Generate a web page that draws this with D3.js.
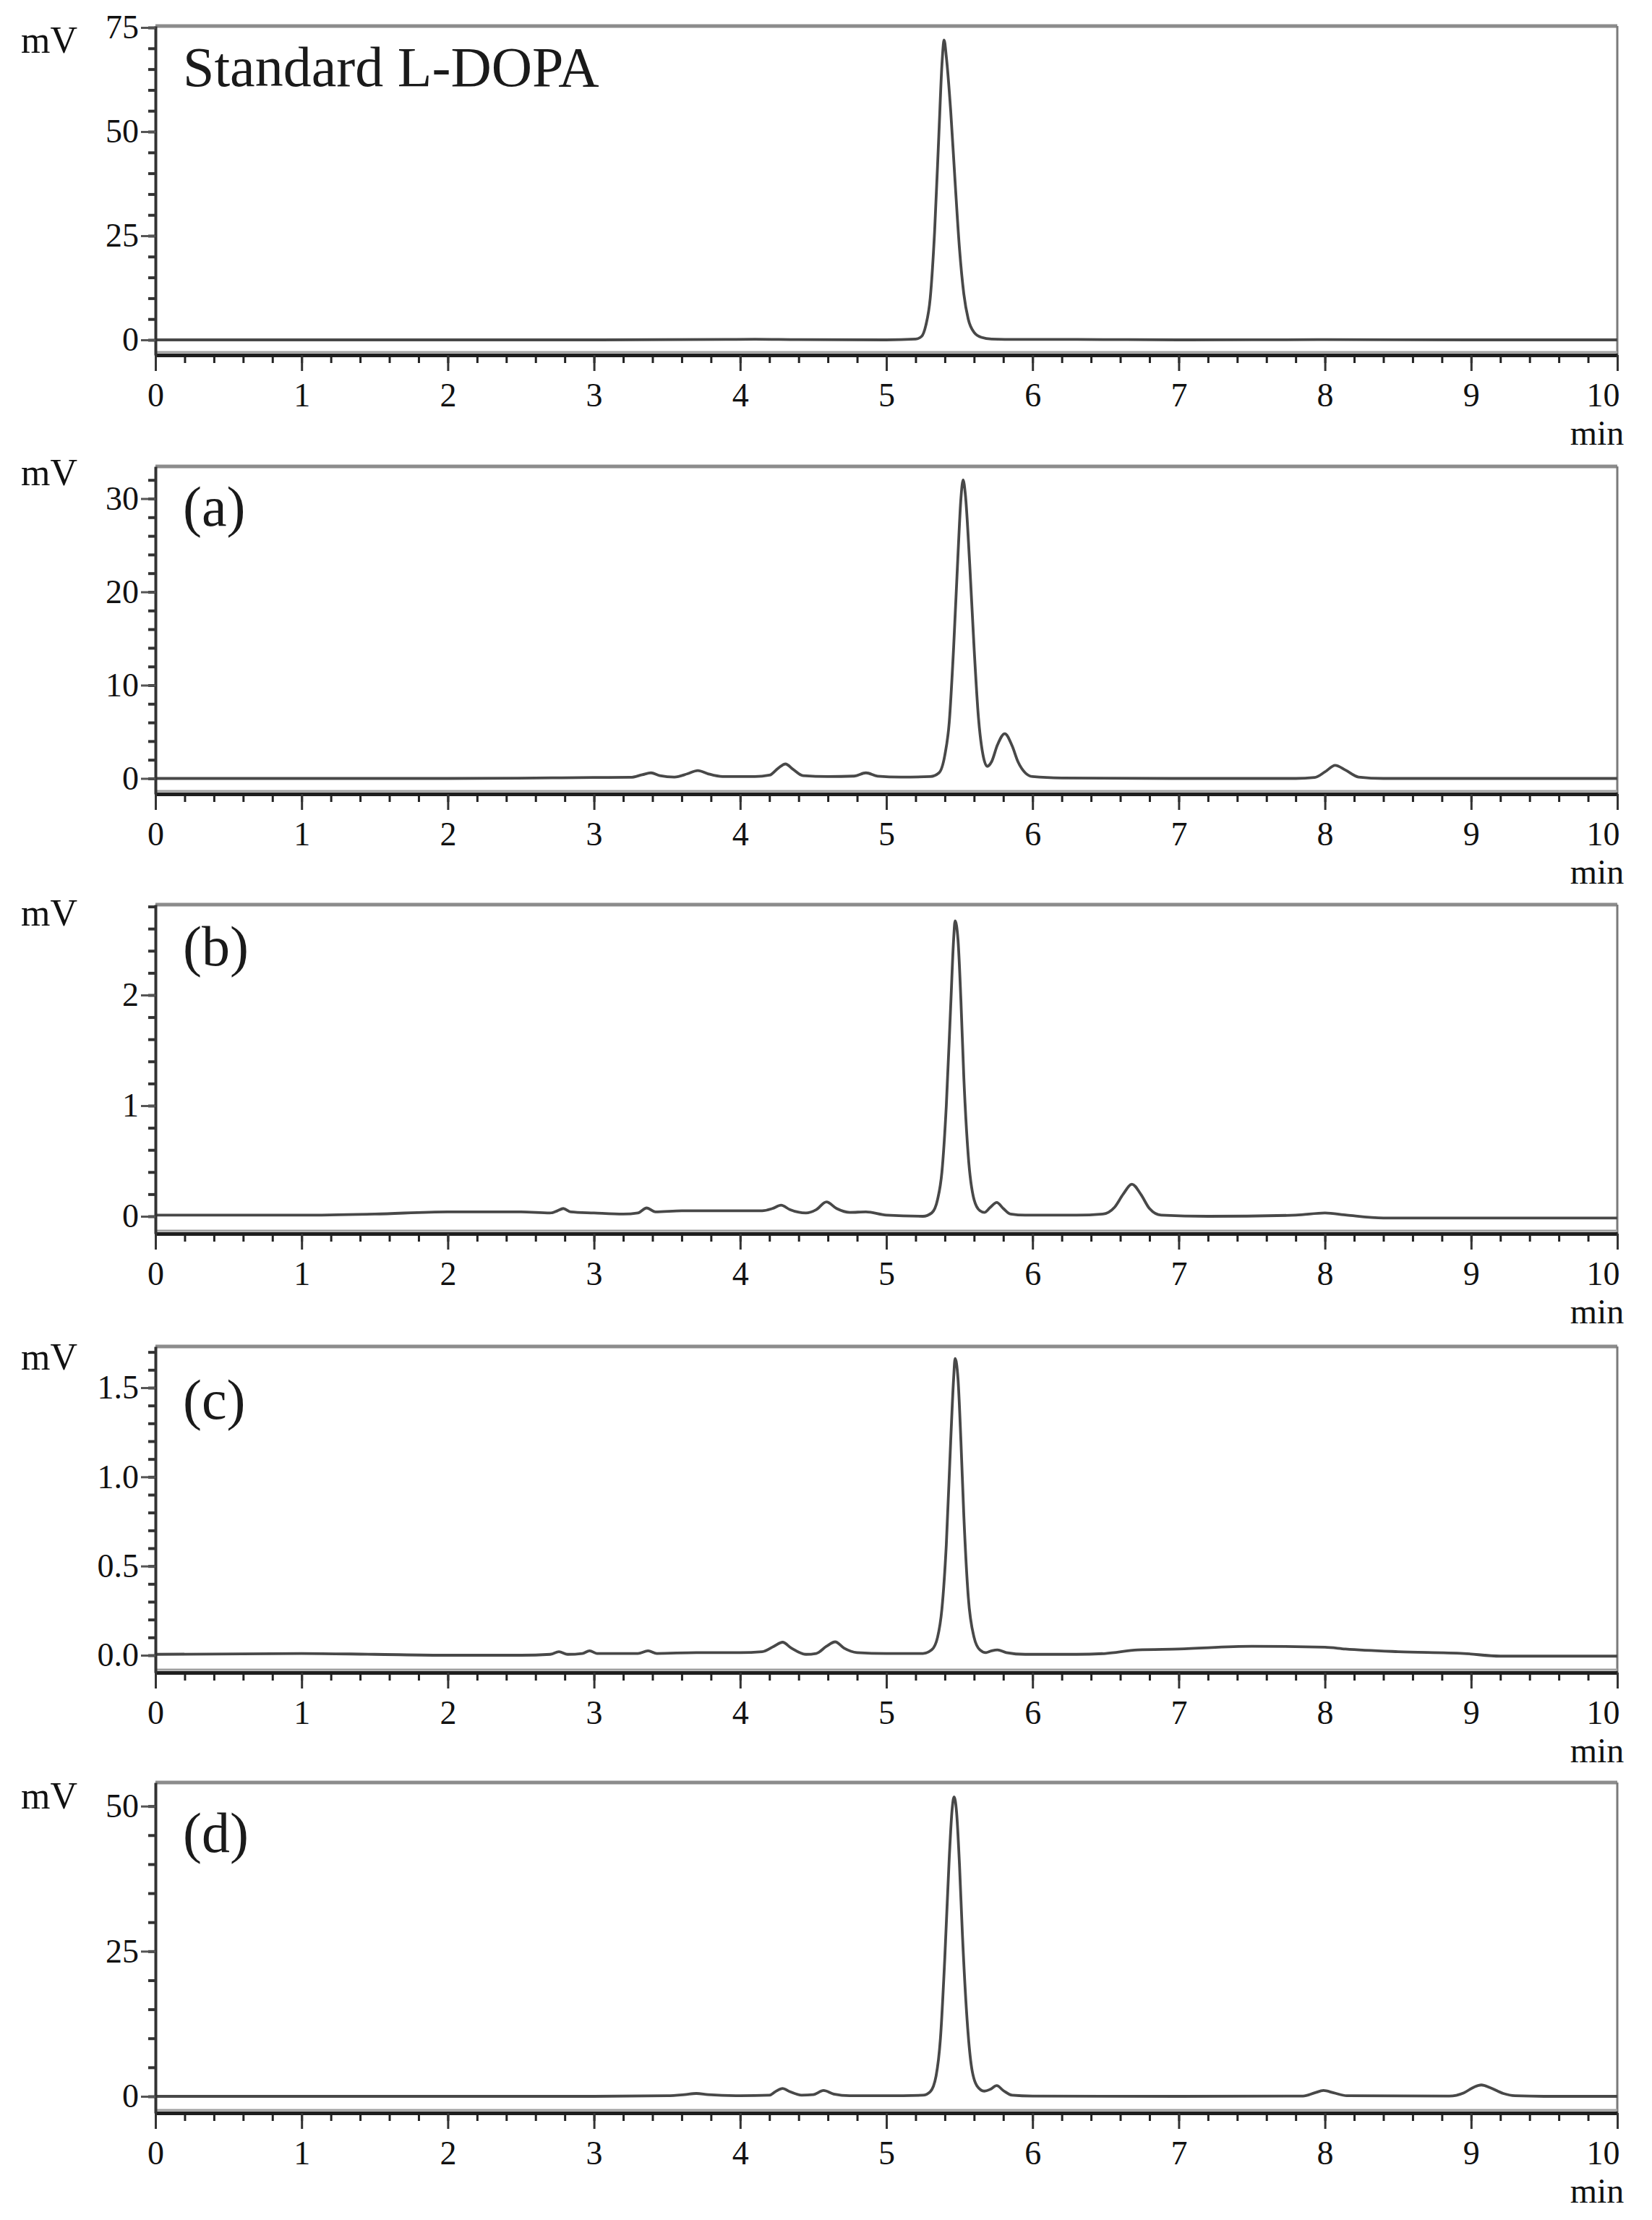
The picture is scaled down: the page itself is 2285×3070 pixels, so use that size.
<!DOCTYPE html>
<html><head><meta charset="utf-8">
<script src="https://cdn.jsdelivr.net/npm/d3@7"></script>
<style>body{margin:0;background:#fff}svg{display:block}</style>
</head><body>
<svg id="chart" width="2285" height="3070"></svg>
<script>
// ---------------- data ----------------
const timeTicks = [0,1,2,3,4,5,6,7,8,9,10];
const panelLabels = ["Standard L-DOPA","(a)","(b)","(c)","(d)"];
const yTicksStd = [0,25,50,75];
const yTicksA = [0,10,20,30];
const yTicksB = [0,1,2];
const yTicksC = [0.0,0.5,1.0,1.5];
const yTicksD = [0,25,50];

// [retention time (min), signal (mV)]
const traceStd = [[0,0],[1,0],[2,0],[3,0],[3.9,0.1],[4.1,0.15],[4.4,0.05],[5.0,0],[5.2,0.2],[5.24,0.8],[5.27,3.5],[5.30,10],[5.33,26],[5.36,50],[5.38,66],[5.395,72],[5.41,68],[5.44,55],[5.47,38],[5.50,22],[5.53,11],[5.56,5],[5.60,1.8],[5.65,0.6],[5.72,0.2],[5.9,0.1],[6.3,0.1],[7,0],[8,0.05],[9,0],[10,0]];

const traceA = [[0,0],[1,0],[2,0],[2.6,0.05],[3.0,0.1],[3.25,0.12],[3.33,0.4],[3.39,0.6],[3.45,0.3],[3.55,0.15],[3.64,0.5],[3.71,0.85],[3.78,0.5],[3.88,0.2],[4.1,0.2],[4.2,0.35],[4.26,1.1],[4.31,1.55],[4.36,1.0],[4.43,0.3],[4.6,0.2],[4.78,0.25],[4.86,0.6],[4.94,0.25],[5.1,0.15],[5.3,0.2],[5.36,0.6],[5.40,2.5],[5.43,6],[5.46,14],[5.49,24],[5.51,30],[5.525,32],[5.54,30.5],[5.57,23],[5.60,14],[5.63,6.5],[5.66,2.6],[5.69,1.3],[5.72,1.8],[5.76,3.6],[5.81,4.8],[5.86,3.5],[5.90,1.8],[5.95,0.6],[6.0,0.2],[6.2,0.05],[7,0],[7.8,0],[7.93,0.1],[8.0,0.7],[8.07,1.4],[8.14,0.9],[8.23,0.15],[8.4,0],[9,0],[10,0]];

const traceB = [[0,0.01],[1,0.01],[1.5,0.02],[2.0,0.04],[2.5,0.04],[2.7,0.03],[2.75,0.05],[2.79,0.07],[2.84,0.04],[3.0,0.03],[3.2,0.02],[3.3,0.03],[3.36,0.075],[3.42,0.04],[3.6,0.05],[3.9,0.05],[4.15,0.05],[4.22,0.07],[4.28,0.1],[4.34,0.06],[4.45,0.03],[4.52,0.06],[4.59,0.13],[4.66,0.07],[4.75,0.035],[4.86,0.04],[5.0,0.01],[5.25,0.0],[5.31,0.03],[5.35,0.15],[5.38,0.4],[5.41,1.0],[5.44,1.9],[5.46,2.5],[5.47,2.67],[5.49,2.5],[5.51,1.95],[5.53,1.25],[5.56,0.55],[5.60,0.15],[5.64,0.05],[5.67,0.035],[5.71,0.08],[5.755,0.125],[5.80,0.07],[5.85,0.02],[5.95,0.01],[6.3,0.01],[6.48,0.02],[6.56,0.08],[6.62,0.2],[6.68,0.29],[6.74,0.2],[6.8,0.07],[6.88,0.01],[7.2,0.0],[7.8,0.01],[8.0,0.03],[8.15,0.01],[8.4,-0.015],[9,-0.015],[10,-0.015]];

const traceC = [[0,0.005],[1,0.01],[1.5,0.005],[2,0.0],[2.5,0.0],[2.7,0.005],[2.76,0.02],[2.82,0.005],[2.92,0.01],[2.97,0.025],[3.02,0.01],[3.3,0.01],[3.37,0.025],[3.43,0.01],[3.7,0.015],[4.0,0.015],[4.15,0.02],[4.23,0.05],[4.29,0.073],[4.35,0.04],[4.45,0.005],[4.52,0.01],[4.59,0.05],[4.65,0.075],[4.71,0.04],[4.8,0.015],[5.0,0.01],[5.25,0.01],[5.31,0.03],[5.35,0.1],[5.38,0.26],[5.41,0.62],[5.44,1.2],[5.46,1.55],[5.47,1.663],[5.49,1.55],[5.51,1.2],[5.53,0.78],[5.56,0.33],[5.60,0.1],[5.64,0.03],[5.68,0.015],[5.72,0.025],[5.76,0.03],[5.82,0.015],[5.95,0.005],[6.3,0.005],[6.5,0.01],[6.72,0.03],[7.0,0.035],[7.5,0.05],[8.0,0.045],[8.14,0.035],[8.5,0.02],[8.95,0.01],[9.2,-0.005],[10,-0.005]];

const traceD = [[0,0],[1,0],[2,0],[3,0],[3.5,0.1],[3.62,0.3],[3.7,0.5],[3.78,0.3],[4.0,0.1],[4.2,0.2],[4.24,0.8],[4.29,1.35],[4.34,0.8],[4.42,0.2],[4.5,0.3],[4.57,1.0],[4.64,0.4],[4.75,0.1],[5.0,0.1],[5.25,0.2],[5.30,0.8],[5.34,3.5],[5.37,10],[5.40,24],[5.43,41],[5.45,49.5],[5.463,51.6],[5.48,49],[5.50,40],[5.52,28],[5.55,14],[5.58,5.5],[5.62,1.8],[5.67,0.9],[5.71,1.2],[5.755,1.85],[5.80,1.0],[5.86,0.2],[6.0,0.05],[7,0],[7.85,0.05],[7.93,0.6],[7.99,1.0],[8.06,0.6],[8.15,0.1],[8.85,0.05],[8.95,0.6],[9.02,1.6],[9.07,1.96],[9.13,1.5],[9.22,0.5],[9.3,0.1],[9.5,0],[10,0]];

// ---------------- layout ----------------
const traces = [traceStd, traceA, traceB, traceC, traceD];
const yTickSets = [yTicksStd, yTicksA, yTicksB, yTicksC, yTicksD];
const layout = [
  {top:36,   bottom:491,  domain:[-3.646,75.35], minorStep:5,   minorMax:75,  fmt:d3.format("d"),   mvY:73,   labelY:119},
  {top:645,  bottom:1098, domain:[-1.667,33.45], minorStep:2,   minorMax:32,  fmt:d3.format("d"),   mvY:671,  labelY:727},
  {top:1251, bottom:1706, domain:[-0.157,2.817], minorStep:0.2, minorMax:2.8, fmt:d3.format("d"),   mvY:1280, labelY:1335},
  {top:1862, bottom:2313, domain:[-0.0973,1.731],minorStep:0.1, minorMax:1.7, fmt:d3.format(".1f"), mvY:1894, labelY:1962},
  {top:2465, bottom:2922, domain:[-2.866,54.07], minorStep:5,   minorMax:50,  fmt:d3.format("d"),   mvY:2501, labelY:2561}
];
const X0 = 215, X1 = 2237;
const FONT = "'Liberation Serif','Times New Roman',serif";
const svg = d3.select("#chart");
const x = d3.scaleLinear().domain([0,10]).range([X0, X1]);
const xMinor = d3.range(0, 10.001, 0.2).map(v => +v.toFixed(1));

layout.forEach((L, i) => {
  const y = d3.scaleLinear().domain(L.domain).range([L.bottom, L.top]);
  const g = svg.append("g");

  // frame: top and right (grey), inner grey line above axis
  g.append("line").attr("x1", X0).attr("x2", X1).attr("y1", L.top).attr("y2", L.top)
    .attr("stroke", "#8c8c8c").attr("stroke-width", 5);
  g.append("line").attr("x1", X1).attr("x2", X1).attr("y1", L.top).attr("y2", L.bottom)
    .attr("stroke", "#7a7a7a").attr("stroke-width", 3);
  g.append("line").attr("x1", X0).attr("x2", X1).attr("y1", L.bottom - 4).attr("y2", L.bottom - 4)
    .attr("stroke", "#a0a0a0").attr("stroke-width", 3);

  // trace
  const line = d3.line().x(d => x(d[0])).y(d => y(d[1])).curve(d3.curveMonotoneX);
  g.append("path").datum(traces[i]).attr("d", line)
    .attr("fill", "none").attr("stroke", "#484848").attr("stroke-width", 3.8)
    .attr("stroke-linejoin", "round");

  // minor x ticks
  const gxm = g.append("g").attr("transform", `translate(0,${L.bottom})`)
    .call(d3.axisBottom(x).tickValues(xMinor).tickSize(11).tickSizeOuter(0).tickFormat(""));
  gxm.select(".domain").remove();
  gxm.selectAll("line").attr("stroke", "#222").attr("stroke-width", 3);

  // major x axis
  const gx = g.append("g").attr("transform", `translate(0,${L.bottom})`)
    .call(d3.axisBottom(x).tickValues(timeTicks).tickSize(22).tickSizeOuter(0).tickPadding(16).tickFormat(d3.format("d")));
  gx.select(".domain").attr("stroke", "#1e1e1e").attr("stroke-width", 5);
  gx.selectAll("line").attr("stroke", "#333").attr("stroke-width", 3);
  gx.selectAll("text").attr("font-family", FONT).attr("font-size", 46).attr("fill", "#111")
    .attr("dx", d => d === 10 ? -20 : 0);

  // minor y ticks
  const yMinor = d3.range(0, L.minorMax + L.minorStep / 2, L.minorStep).map(v => +v.toFixed(2));
  const gym = g.append("g").attr("transform", `translate(${X0},0)`)
    .call(d3.axisLeft(y).tickValues(yMinor).tickSize(10).tickSizeOuter(0).tickFormat(""));
  gym.select(".domain").remove();
  gym.selectAll("line").attr("stroke", "#333").attr("stroke-width", 4);

  // major y axis
  const gy = g.append("g").attr("transform", `translate(${X0},0)`)
    .call(d3.axisLeft(y).tickValues(yTickSets[i]).tickSize(20).tickSizeOuter(0).tickPadding(3).tickFormat(L.fmt));
  gy.select(".domain").attr("stroke", "#333").attr("stroke-width", 4);
  gy.selectAll("line").attr("stroke", "#555").attr("stroke-width", 3);
  gy.selectAll("text").attr("font-family", FONT).attr("font-size", 46).attr("fill", "#111");

  // mV unit
  g.append("text").attr("x", 29).attr("y", L.mvY).text("mV")
    .attr("font-family", FONT).attr("font-size", 52).attr("fill", "#111");
  // min unit
  g.append("text").attr("x", 2209).attr("y", L.bottom + 124).attr("text-anchor", "middle").text("min")
    .attr("font-family", FONT).attr("font-size", 48).attr("fill", "#111");
  // panel label
  g.append("text").attr("x", 253).attr("y", L.labelY).text(panelLabels[i])
    .attr("font-family", FONT).attr("font-size", 78).attr("fill", "#1a1a1a");
});
</script>
</body></html>
